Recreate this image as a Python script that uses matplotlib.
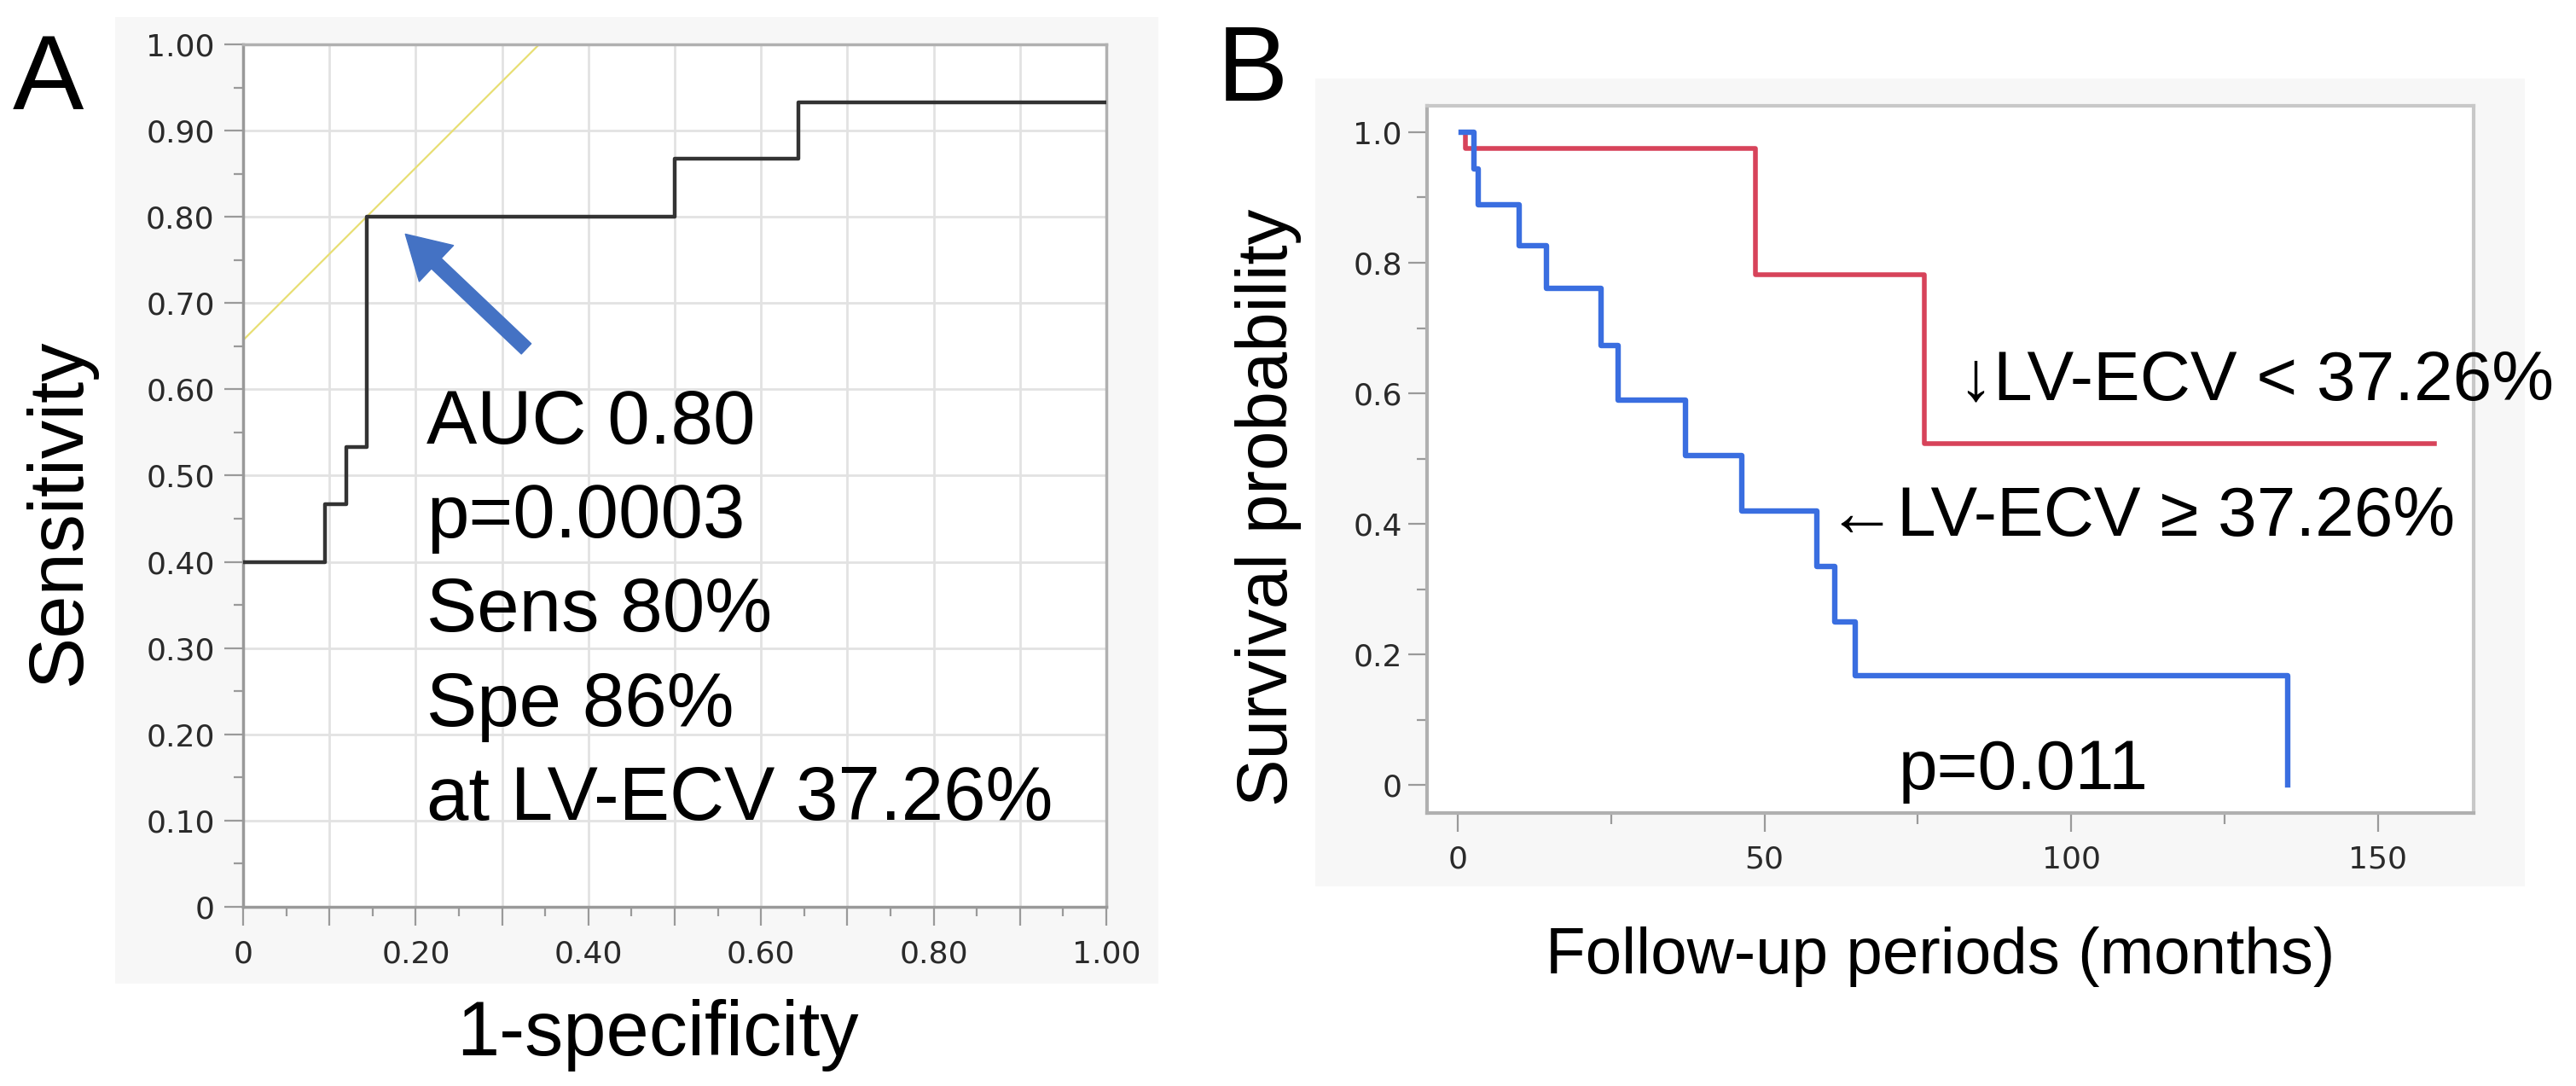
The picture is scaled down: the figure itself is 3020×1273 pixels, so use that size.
import numpy as np
import matplotlib
matplotlib.use("Agg")
import matplotlib.pyplot as plt
from matplotlib.patches import Rectangle
from matplotlib.ticker import FixedLocator, FixedFormatter

plt.rcParams['font.family'] = ['Liberation Sans', 'DejaVu Sans']

# ---- panel A: ROC curve ----
roc_fpr = [0.0, 0.095, 0.12, 0.143, 0.50, 0.643, 1.0]
roc_tpr = [0.40, 0.467, 0.533, 0.80, 0.867, 0.933, 0.933]
cut_fpr, cut_tpr = 0.143, 0.80          # optimal cut-off (LV-ECV 37.26%)
roc_text = ["AUC 0.80", "p=0.0003", "Sens 80%", "Spe 86%", "at LV-ECV 37.26%"]

# ---- panel B: Kaplan-Meier ----
blue_t = [0.5, 2.6, 3.3, 10.0, 14.4, 23.4, 26.1, 37.1, 46.3, 58.6, 61.4, 64.8, 135.3]
blue_s = [1.0, 0.944, 0.889, 0.826, 0.761, 0.673, 0.59, 0.505, 0.42, 0.335, 0.25, 0.167, 0.0]
red_t = [0.5, 1.25, 48.5, 76.0, 159.2]
red_s = [1.0, 0.975, 0.782, 0.523, 0.523]

W, H = 3020, 1273
fig = plt.figure(figsize=(W / 100, H / 100), dpi=100)

# light gray panel backgrounds (JMP style)
fig.add_artist(Rectangle((135 / W, 1 - 1153 / H), (1358 - 135) / W, (1153 - 20) / H,
                         transform=fig.transFigure, facecolor='#f7f7f7', edgecolor='none', zorder=-1))
fig.add_artist(Rectangle((1542 / W, 1 - 1039 / H), (2960 - 1542) / W, (1039 - 92) / H,
                         transform=fig.transFigure, facecolor='#f7f7f7', edgecolor='none', zorder=-1))

tick_col = '#9a9a9a'
lab_col = '#2a2a2a'

# ================= A =================
axA = fig.add_axes([285 / W, 1 - 1063 / H, (1297 - 285) / W, (1063 - 52) / H])
axA.set_facecolor('white')
axA.set_xlim(0, 1)
axA.set_ylim(0, 1)

xmaj = np.round(np.arange(0, 1.01, 0.1), 2)
axA.xaxis.set_major_locator(FixedLocator(xmaj))
axA.xaxis.set_major_formatter(FixedFormatter(
    ['0' if v == 0 else (f'{v:.2f}' if round(v * 10) % 2 == 0 else '') for v in xmaj]))
axA.xaxis.set_minor_locator(FixedLocator(np.arange(0.05, 1.0, 0.1)))
axA.yaxis.set_major_locator(FixedLocator(xmaj))
axA.yaxis.set_major_formatter(FixedFormatter(['0' if v == 0 else f'{v:.2f}' for v in xmaj]))
axA.yaxis.set_minor_locator(FixedLocator(np.arange(0.05, 1.0, 0.1)))
axA.grid(True, which='major', color='#e2e2e2', lw=2)
axA.set_axisbelow(True)

for s in axA.spines.values():
    s.set_color('#b0b0b0')
    s.set_linewidth(2.5)
axA.spines['left'].set_color('#999999')
axA.spines['bottom'].set_color('#999999')

axA.tick_params(which='major', length=16, width=1.6, color=tick_col, labelcolor=lab_col, labelsize=26)
axA.tick_params(which='minor', length=8, width=1.6, color=tick_col)
axA.tick_params(axis='y', which='major', pad=8)
axA.tick_params(axis='x', which='major', pad=12)
for lab in axA.get_xticklabels() + axA.get_yticklabels():
    lab.set_fontfamily('DejaVu Sans')

xl = np.array([0.0, 1.0])
axA.plot(xl, xl + (cut_tpr - cut_fpr), color='#e8df74', lw=1.6, zorder=2)
axA.plot(roc_fpr, roc_tpr, drawstyle='steps-post', color='#333333', lw=3.2, zorder=3)

axA.annotate('', xy=(0.188, 0.78), xytext=(0.328, 0.647),
             arrowprops=dict(arrowstyle='simple,head_length=0.9,head_width=1.05,tail_width=0.3',
                             mutation_scale=40, color='#4472c4', shrinkA=0, shrinkB=0), zorder=4)

for i, line in enumerate(roc_text):
    axA.text(0.2125, 0.537 - i * 0.109, line, fontsize=64, color='black', va='baseline', ha='left')

fig.text(15 / W, 1 - 128 / H, 'A', fontsize=90, va='baseline', ha='left')
fig.text(70 / W, 1 - 600 / H, 'Sensitivity', fontsize=65, rotation=90, ha='center', va='center')
fig.text(771 / W, 1 - 1237 / H, '1-specificity', fontsize=65, ha='center', va='baseline')

# ================= B =================
axB = fig.add_axes([1673 / W, 1 - 953 / H, (2900 - 1673) / W, (953 - 124) / H])
axB.set_facecolor('white')
axB.set_xlim(-5.0, 165.6)
axB.set_ylim(-0.043, 1.0405)
axB.xaxis.set_major_locator(FixedLocator([0, 50, 100, 150]))
axB.xaxis.set_minor_locator(FixedLocator([25, 75, 125]))
ymajB = [0, 0.2, 0.4, 0.6, 0.8, 1.0]
axB.yaxis.set_major_locator(FixedLocator(ymajB))
axB.yaxis.set_major_formatter(FixedFormatter(['0' if v == 0 else f'{v:.1f}' for v in ymajB]))
axB.yaxis.set_minor_locator(FixedLocator([0.1, 0.3, 0.5, 0.7, 0.9]))

for s in axB.spines.values():
    s.set_color('#c8c8c8')
    s.set_linewidth(3)
axB.spines['left'].set_color('#b0b0b0')
axB.spines['bottom'].set_color('#b0b0b0')

axB.tick_params(which='major', length=16, width=1.6, color=tick_col, labelcolor=lab_col, labelsize=26)
axB.tick_params(which='minor', length=9, width=1.6, color=tick_col)
axB.tick_params(axis='y', which='major', pad=5)
axB.tick_params(axis='x', which='major', pad=11)
for lab in axB.get_xticklabels() + axB.get_yticklabels():
    lab.set_fontfamily('DejaVu Sans')

axB.step(red_t, red_s, where='post', color='#d7435a', lw=4.0, zorder=3)
axB.step(blue_t, blue_s, where='post', color='#3a6ee0', lw=4.6, zorder=4)

axB.text(81.6, 0.59, '\u2193LV-ECV < 37.26%', fontsize=59, va='baseline', ha='left', clip_on=False)
axB.text(60.2, 0.382, '\u2190LV-ECV \u2265 37.26%', fontsize=59, va='baseline', ha='left')
axB.text(71.9, -0.0065, 'p=0.011', fontsize=59, va='baseline', ha='left')

fig.text(1427 / W, 1 - 118 / H, 'B', fontsize=90, va='baseline', ha='left')
fig.text(1487 / W, 1 - 595 / H, 'Survival probability', fontsize=60, rotation=90, ha='center', va='center')
fig.text(2275 / W, 1 - 1141 / H, 'Follow-up periods (months)', fontsize=55, ha='center', va='baseline')

fig.savefig('out.png', dpi=100)
